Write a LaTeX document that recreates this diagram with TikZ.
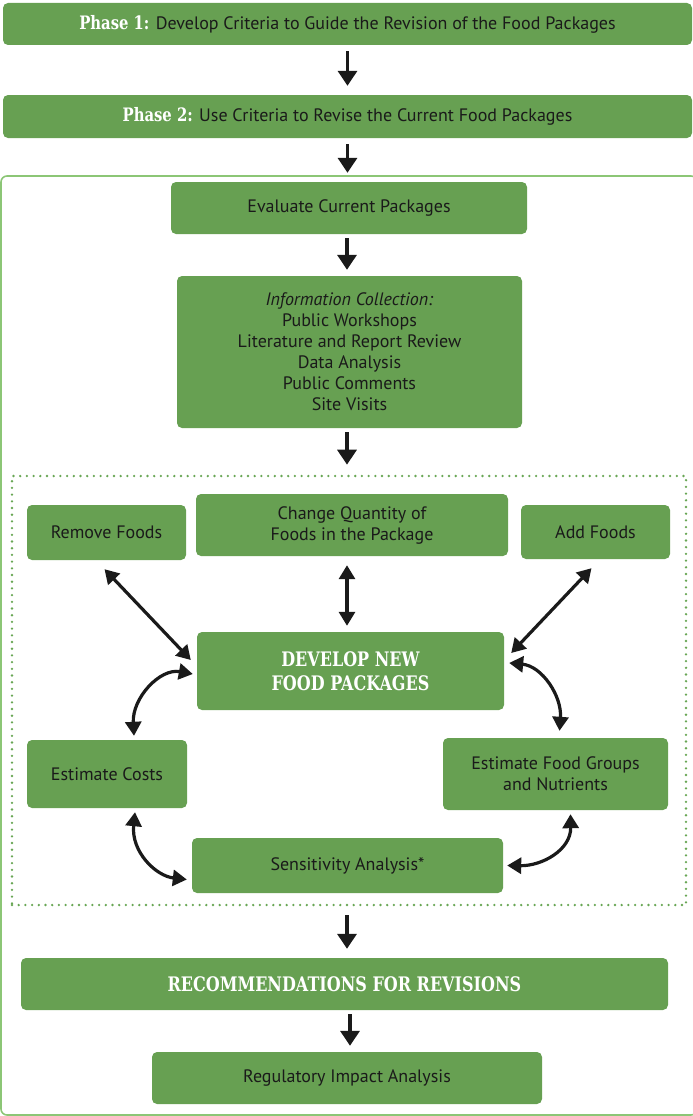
\documentclass[tikz,border=0pt]{standalone}
\usepackage{fontspec}
\setmainfont{PT Sans}
\newfontfamily\slab[FakeStretch=0.8]{DejaVu Serif}
\usetikzlibrary{arrows.meta,calc}

\definecolor{boxgreen}{RGB}{103,160,82}
\definecolor{framegreen}{RGB}{140,198,118}
\definecolor{dotgreen}{RGB}{104,166,84}
\definecolor{ink}{RGB}{26,26,26}

\tikzset{
  box/.style={fill=boxgreen, draw=none, rounded corners=5pt, align=center,
    inner sep=0pt, text=ink, font=\fontsize{18}{21}\selectfont},
  headtext/.style={font=\slab\bfseries\fontsize{20}{24}\selectfont, text=white},
  down/.style={draw=ink, line width=3.4pt,
    -{Triangle[width=19pt,length=15pt]}},
  both/.style={draw=ink, line width=3.2pt,
    {Triangle[width=16pt,length=14pt]}-{Triangle[width=16pt,length=14pt]}},
}
\newcommand{\phaselabel}[1]{{\slab\bfseries\fontsize{18.5}{20}\selectfont\color{white}#1}}

\begin{document}
\begin{tikzpicture}[x=1pt,y=-1pt]
\useasboundingbox (0,0) rectangle (693,1116);

% outer frame around phase 2 work
\draw[framegreen, line width=1.6pt, rounded corners=6pt] (1,176) rectangle (697,1115);

% phases
\node[box, minimum width=689pt, minimum height=42pt] (p1) at (347.5,24)
  {\phaselabel{Phase 1:} Develop Criteria to Guide the Revision of the Food Packages};
\node[box, minimum width=689pt, minimum height=43pt] (p2) at (347.5,116.5)
  {\phaselabel{Phase 2:} Use Criteria to Revise the Current Food Packages};

\node[box, minimum width=356pt, minimum height=52pt] (eval) at (349,208)
  {Evaluate Current Packages};
\node[box, minimum width=345pt, minimum height=152pt] (info) at (349.5,352)
  {\textit{Information Collection:}\\Public Workshops\\Literature and Report Review\\Data Analysis\\Public Comments\\Site Visits};

% dotted region of package development
\node[draw=dotgreen, line width=2.6pt, line cap=round, dash pattern=on 0pt off 6.7pt,
  minimum width=674pt, minimum height=429pt, inner sep=0pt] (loop) at (349,690.5) {};

\node[box, minimum width=159pt, minimum height=55pt] (remove) at (106.5,532.5) {Remove Foods};
\node[box, minimum width=312pt, minimum height=62pt] (change) at (352,525)
  {Change Quantity of\\Foods in the Package};
\node[box, minimum width=149pt, minimum height=54pt] (add) at (595.5,532) {Add Foods};
\node[box, minimum width=307pt, minimum height=78pt, headtext] (develop) at (350.5,671)
  {DEVELOP NEW\\FOOD PACKAGES};
\node[box, minimum width=160pt, minimum height=68pt] (costs) at (107,774) {Estimate Costs};
\node[box, minimum width=225pt, minimum height=72pt] (groups) at (555.5,774)
  {Estimate Food Groups\\and Nutrients};
\node[box, minimum width=311pt, minimum height=55pt] (sens) at (347.5,865.5) {Sensitivity Analysis*};

\node[box, minimum width=647pt, minimum height=52pt, headtext] (rec) at (344.5,984)
  {RECOMMENDATIONS FOR REVISIONS};
\node[box, minimum width=390pt, minimum height=52pt] (reg) at (347,1078)
  {Regulatory Impact Analysis};

% main flow
\draw[down, shorten <=6pt, shorten >=9pt] (p1.south) -- (p2.north);
\draw[down, shorten <=6pt, shorten >=9pt] (p2.south) -- (p2.south |- eval.north);
\draw[down, shorten <=4pt, shorten >=6pt] ($(eval.south)+(-2,0)$) -- ($(info.north)+(-2.5,0)$);
\draw[down, shorten <=4pt, shorten >=10pt] ($(info.south)+(-2.5,0)$) -- ($(loop.north)+(-2,0)$);
\draw[down, shorten <=9pt, shorten >=9pt] ($(loop.south)+(-2,0)$) -- ($(rec.north)+(2.5,0)$);
\draw[down, shorten <=4pt, shorten >=6pt] ($(rec.south)+(5.5,0)$) -- ($(reg.north)+(3,0)$);

% links around the new packages
\draw[both] ($(remove.south)+(-2,9)$) -- ($(develop.west)+(-6,-11)$);
\draw[both] ($(change.south)+(-5,9)$) -- ($(develop.north)+(-3.5,-6)$);
\draw[both] ($(add.south)+(-4,9)$) -- ($(develop.east)+(7,-18)$);

\draw[both] ($(develop.west)+(-4,3)$) .. controls (160,668) and (132,698) .. ($(costs.north)+(27,-4)$);
\draw[both] ($(develop.east)+(5,-8)$) .. controls (542,666) and (562,696) .. ($(groups.north)+(4,-7)$);
\draw[both] ($(costs.south)+(28,4)$) .. controls (131,852) and (156,876) .. ($(sens.west)+(-5,14)$);
\draw[both] ($(groups.south)+(15,4)$) .. controls (571,850) and (542,866) .. ($(sens.east)+(4,0)$);
\end{tikzpicture}
\end{document}
